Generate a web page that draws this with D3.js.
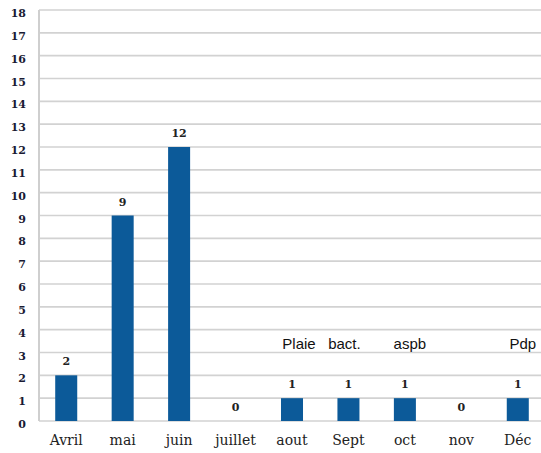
<!DOCTYPE html>
<html>
<head>
<meta charset="utf-8">
<script src="https://cdn.jsdelivr.net/npm/d3@7"></script>
<style>
  body { margin: 0; background: #fff; }
  .tick-label { font-family: "DejaVu Serif", "Liberation Serif", serif; font-weight: bold; font-size: 11px; fill: #1a1a33; }
  .cat-label { font-family: "DejaVu Serif", "Liberation Serif", serif; font-size: 14px; fill: #222; }
  .val-label { font-family: "DejaVu Serif", "Liberation Serif", serif; font-weight: bold; font-size: 11px; fill: #222; }
  .note { font-family: "Liberation Sans", Arial, sans-serif; font-size: 15px; fill: #111; }
</style>
</head>
<body>
<div id="chart"></div>
<script>
var months = ["Avril", "mai", "juin", "juillet", "aout", "Sept", "oct", "nov", "Déc"];
var counts = [2, 9, 12, 0, 1, 1, 1, 0, 1];
var yTicks = d3.range(0, 19);
var notes = [
    { month: "aout", text: "Plaie", dx: 7 },
    { month: "Sept", text: "bact.", dx: -4 },
    { month: "oct", text: "aspb", dx: 5 },
    { month: "Déc", text: "Pdp", dx: 5 }
];
var noteLevel = 3.15;

var width = 541, height = 453;
var svg = d3.select("#chart").append("svg")
    .attr("width", width)
    .attr("height", height);

var x = d3.scaleBand()
    .domain(months)
    .range([38, 546])
    .paddingInner(0.61)
    .paddingOuter(0.305);

var y = d3.scaleLinear()
    .domain([0, 18])
    .range([421, 10]);

// grid lines
svg.append("g")
    .selectAll("line")
    .data(yTicks)
    .enter().append("line")
    .attr("x1", 39)
    .attr("x2", width)
    .attr("y1", function(d) { return y(d); })
    .attr("y2", function(d) { return y(d); })
    .attr("stroke", "#d2d2d2")
    .attr("stroke-width", 1.6);

// axis line
svg.append("line")
    .attr("x1", 39).attr("x2", 39)
    .attr("y1", y(18)).attr("y2", y(0))
    .attr("stroke", "#cfcfcf")
    .attr("stroke-width", 2);

// y labels
svg.append("g")
    .selectAll("text")
    .data(yTicks)
    .enter().append("text")
    .attr("class", "tick-label")
    .attr("x", 26)
    .attr("y", function(d) { return y(d) + 7; })
    .attr("text-anchor", "end")
    .text(function(d) { return d; });

// bars
svg.append("g")
    .selectAll("rect")
    .data(counts)
    .enter().append("rect")
    .attr("x", function(d, i) { return x(months[i]); })
    .attr("y", function(d) { return y(d); })
    .attr("width", x.bandwidth())
    .attr("height", function(d) { return y(0) - y(d); })
    .attr("fill", "#0c5a99");

// value labels
svg.append("g")
    .selectAll("text")
    .data(counts)
    .enter().append("text")
    .attr("class", "val-label")
    .attr("x", function(d, i) { return x(months[i]) + x.bandwidth() / 2; })
    .attr("y", function(d) { return y(d) - 10; })
    .attr("text-anchor", "middle")
    .text(function(d) { return d; });

// month labels
svg.append("g")
    .selectAll("text")
    .data(months)
    .enter().append("text")
    .attr("class", "cat-label")
    .attr("x", function(d) { return x(d) + x.bandwidth() / 2; })
    .attr("y", 445)
    .attr("text-anchor", "middle")
    .text(function(d) { return d; });

// annotations
svg.append("g")
    .selectAll("text")
    .data(notes)
    .enter().append("text")
    .attr("class", "note")
    .attr("x", function(d) { return x(d.month) + x.bandwidth() / 2 + d.dx; })
    .attr("y", y(noteLevel))
    .attr("text-anchor", "middle")
    .text(function(d) { return d.text; });
</script>
</body>
</html>
